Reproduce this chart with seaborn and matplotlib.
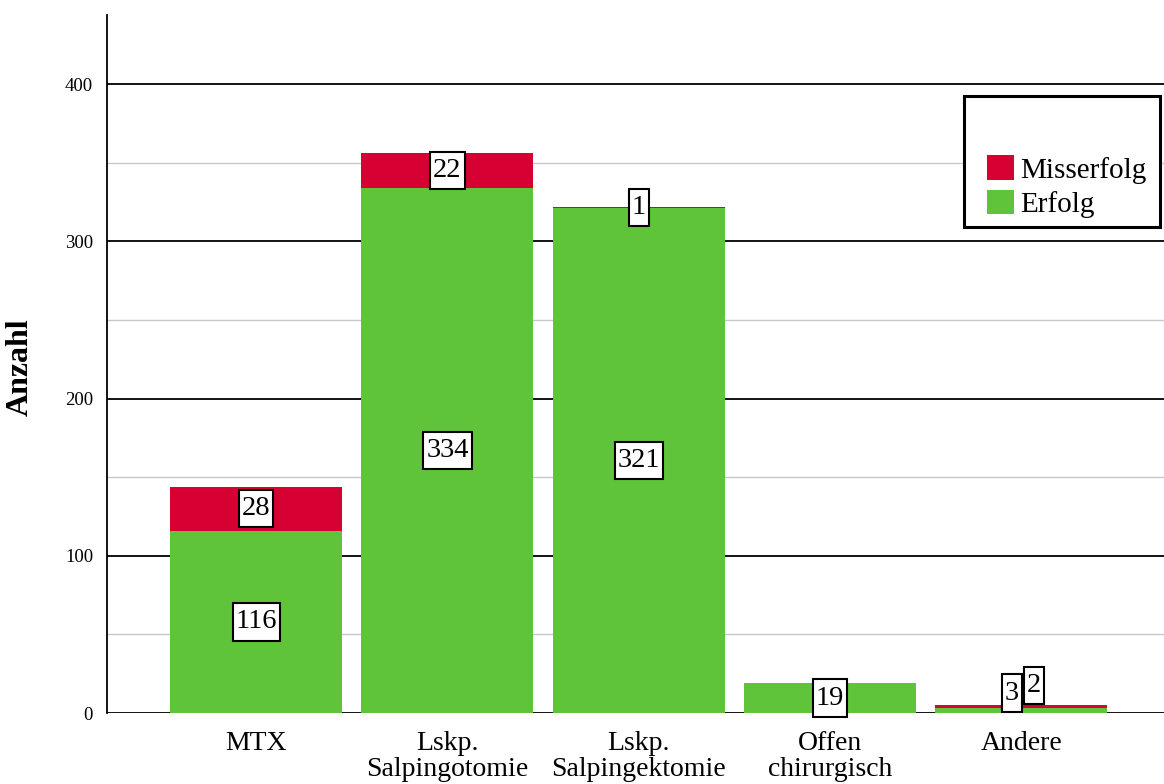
import matplotlib
matplotlib.use("Agg")
import matplotlib.pyplot as plt
import seaborn as sns
import pandas as pd
from matplotlib.patches import Patch, Rectangle
from matplotlib.path import Path
from matplotlib.ticker import MultipleLocator

# Treatment outcome counts
categories = ["MTX", "Lskp.\nSalpingotomie", "Lskp.\nSalpingektomie", "Offen\nchirurgisch", "Andere"]
erfolg = [116, 334, 321, 19, 3]
misserfolg = [28, 22, 1, 0, 2]

RED = "#D60032"
GREEN = "#5FC43A"

df = pd.DataFrame({
    "Behandlung": categories,
    "Erfolg": erfolg,
    "Misserfolg": misserfolg,
})
df["Gesamt"] = df["Erfolg"] + df["Misserfolg"]

sns.set_theme(style="white")
plt.rcParams["font.family"] = ["Liberation Serif", "DejaVu Serif"]
plt.rcParams.update({
    "text.color": "black",
    "axes.labelcolor": "black",
    "xtick.color": "black",
    "ytick.color": "black",
})

W, H = 1164, 784
fig = plt.figure(figsize=(W / 100, H / 100), dpi=100)
ax = fig.add_axes([107 / W, 71 / H, 1 - 107 / W, (713 - 15) / H])

# Stacked bars: full total in red, success part in green on top
sns.barplot(data=df, x="Behandlung", y="Gesamt", color=RED, width=0.9,
            saturation=1, linewidth=0, edgecolor="none", ax=ax, zorder=3)
sns.barplot(data=df, x="Behandlung", y="Erfolg", color=GREEN, width=0.9,
            saturation=1, linewidth=0, edgecolor="none", ax=ax, zorder=3)

ax.set_xlim(-0.78, 4.747)
ax.set_ylim(0, 444)

ax.yaxis.set_major_locator(MultipleLocator(100))
ax.yaxis.set_minor_locator(MultipleLocator(50))
ax.grid(axis="y", which="major", color="black", linewidth=1.3, zorder=0)
ax.grid(axis="y", which="minor", color="#c8c8c8", linewidth=1.0, zorder=0)
ax.grid(axis="x", visible=False)
for side in ["top", "right", "bottom"]:
    ax.spines[side].set_visible(False)
ax.spines["left"].set_color("black")
ax.spines["left"].set_linewidth(1.3)

ax.tick_params(axis="both", which="both", length=0)
ax.tick_params(axis="y", labelsize=13.5, pad=10)
ax.tick_params(axis="x", labelsize=20, pad=13)
for lab in ax.get_xticklabels():
    lab.set_linespacing(1.05)
ax.set_xlabel("")
ax.set_ylabel("Anzahl", fontsize=23, fontweight="bold")
ax.yaxis.set_label_coords(-0.068, 0.496)


def tag_box(x0, y0, width, height, mutation_size):
    # Rectangle with tight sides and taller top/bottom margins
    px = 0.10 * mutation_size
    py = 0.22 * mutation_size
    x0, y0 = x0 - px, y0 - py
    x1, y1 = x0 + width + 2 * px, y0 + height + 2 * py
    return Path([(x0, y0), (x1, y0), (x1, y1), (x0, y1), (x0, y0)], closed=True)


box = dict(boxstyle=tag_box, facecolor="white", edgecolor="black", linewidth=1.5)


def label(x, y, val):
    ax.text(x, y, str(val), ha="center", va="center", fontsize=20.5, bbox=box, zorder=5)


for i, (e, m) in enumerate(zip(erfolg, misserfolg)):
    if i == 4:
        continue
    label(i, e / 2, e)
    if m > 0:
        label(i, e + m / 2, m)

# Small last bar: labels nudged apart so both stay readable
label(4 - 0.047, 12.7, erfolg[4])
label(4 + 0.065, 17.5, misserfolg[4])

# Legend frame with empty title area above the entries
frame = Rectangle((964 / W, 1 - 227 / H), 196 / W, 131 / H, transform=fig.transFigure,
                  facecolor="white", edgecolor="black", linewidth=2.2, zorder=6)
fig.patches.append(frame)

handles = [Patch(facecolor=RED, edgecolor="none", label="Misserfolg"),
           Patch(facecolor=GREEN, edgecolor="none", label="Erfolg")]
leg = fig.legend(handles=handles, loc="lower left",
                 bbox_to_anchor=(987 / W, 1 - 218 / H), fontsize=21,
                 frameon=False, handlelength=0.93, handleheight=0.93,
                 handletextpad=0.2, labelspacing=0.2, borderpad=0,
                 borderaxespad=0)
leg.set_zorder(7)

fig.savefig("out.png", dpi=100)
